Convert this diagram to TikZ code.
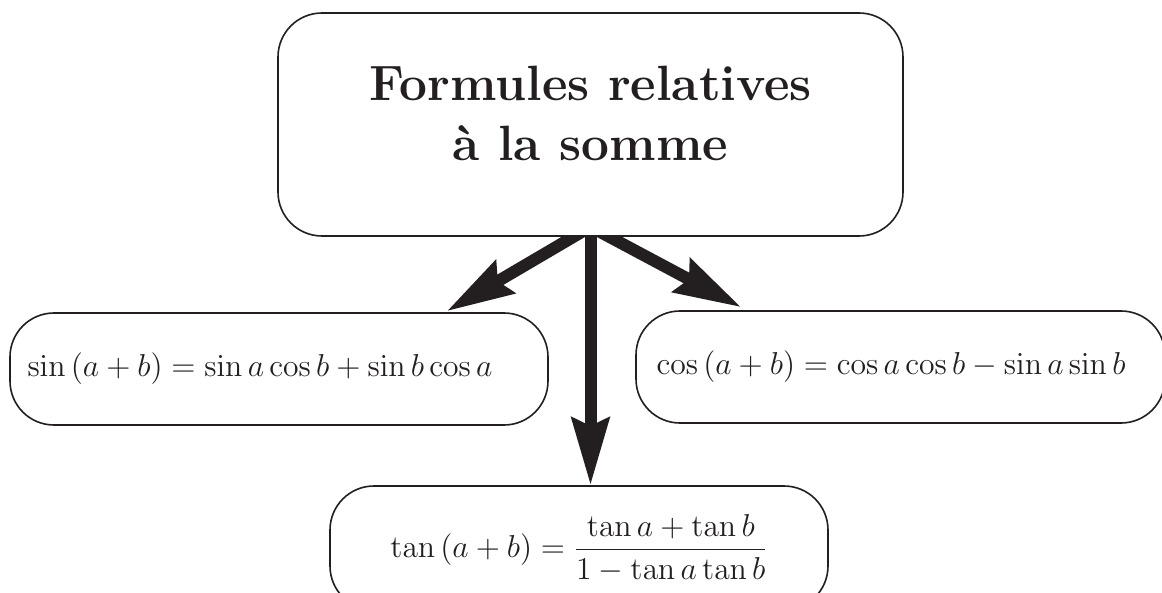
\RequirePackage{fix-cm}
\documentclass[tikz,border=0pt]{standalone}
\usepackage{amsmath}
\usetikzlibrary{arrows.meta,calc}
\definecolor{ink}{RGB}{35,31,32}
\tikzset{
  box/.style={draw=ink, text=ink, line width=0.8pt, rounded corners=22pt, inner sep=0pt},
  formula/.style={font=\fontsize{16.5}{20}\selectfont},
  bigarrow/.style={draw=ink, line width=6pt, -{Stealth[length=33.5pt, width=18.5pt, inset=4pt]}},
}
\begin{document}
\begin{tikzpicture}[x=0.5pt, y=-0.5pt]
\useasboundingbox (0,0) rectangle (1162,593);
\clip (0,0) rectangle (1162,593);
\fill[white] (0,0) rectangle (1162,593);
\node[box, align=center, minimum width=312.5pt, minimum height=111.5pt,
      font=\fontsize{24.8}{30}\selectfont\bfseries] (top) at (590.5,124.5)
      {Formules relatives\\à la somme\rule[-11pt]{0pt}{0pt}};
\node[box, formula, minimum width=269pt, minimum height=56pt] (left) at (279,369)
      {\scalebox{0.96}{$\sin\,(a+b)=\sin a\cos b+\sin b\cos a$}\hspace*{19pt}\mbox{}};
\node[box, formula, minimum width=264.5pt, minimum height=56pt] (right) at (900.5,367)
      {\scalebox{0.96}{$\cos\,(a+b)=\cos a\cos b-\sin a\sin b$}\hspace*{9.5pt}\mbox{}};
\node[box, formula, minimum width=249pt, minimum height=62pt] (bot) at (579,548)
      {\scalebox{0.96}{$\tan\,(a+b)=\dfrac{\tan a+\tan b}{1-\tan a\tan b}$}};
\begin{scope}
\clip (0,236) rectangle (1162,593);
\draw[bigarrow] ($(top.south)+(0,-10)$) -- ($(left.north east)+(-102,-1)$);
\draw[bigarrow] ($(top.south)+(0,-10)$) -- ($(right.north west)+(106,-3)$);
\draw[bigarrow] ($(top.south)+(0,-10)$) -- (top.south |- bot.north);
\end{scope}
\end{tikzpicture}
\end{document}
